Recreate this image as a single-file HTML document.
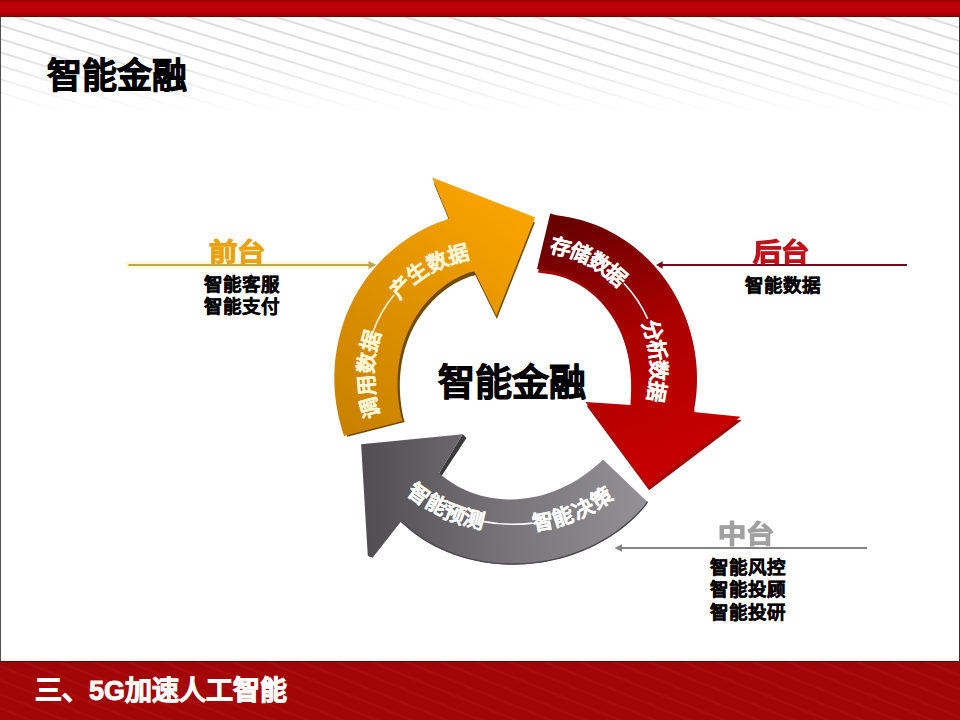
<!DOCTYPE html>
<html lang="zh-CN">
<head>
<meta charset="utf-8">
<style>
html,body{margin:0;padding:0;}
body{width:960px;height:720px;overflow:hidden;position:relative;background:#fff;font-family:"Liberation Sans",sans-serif;}
.abs{position:absolute;white-space:nowrap;}
#topbar{left:0;top:0;width:960px;height:17px;background:linear-gradient(to bottom,#8c0404 0,#b40008 2px,#c2000a 6px,#bc0008 12px,#a00006 15px,#700000 17px);}
#stripes{left:0;top:17px;width:960px;height:110px;
  background:repeating-linear-gradient(17.2deg,rgba(208,208,214,0) 0,rgba(208,208,214,0) 5.9px,rgba(208,208,214,.8) 7px,rgba(208,208,214,.8) 7.8px,rgba(208,208,214,0) 8.9px,rgba(208,208,214,0) 12.8px);
  -webkit-mask-image:linear-gradient(to bottom,rgba(0,0,0,1) 0,rgba(0,0,0,.85) 35%,rgba(0,0,0,0) 88%);}
#lb{left:0;top:17px;width:1px;height:644px;background:#4e4e4e;}
#rb{left:959px;top:17px;width:1px;height:644px;background:#333;}
#botbar{left:0;top:661px;width:960px;height:59px;background-color:#a30606;border-top:1px solid #680000;box-sizing:border-box;
  background-image:repeating-linear-gradient(22deg,rgba(255,90,90,0) 0,rgba(255,90,90,0) 9px,rgba(255,90,90,.08) 10.5px,rgba(255,90,90,.08) 11.5px,rgba(255,90,90,0) 13px),linear-gradient(to bottom,rgba(0,0,0,.06),rgba(0,0,0,0) 10px);}
.b{font-weight:bold;}
#title{left:47px;top:53.5px;font-size:35px;line-height:44px;color:#000;font-weight:bold;-webkit-text-stroke:0.8px #000;}
#foot{left:35px;top:673px;font-size:27px;line-height:36px;color:#fff;font-weight:bold;-webkit-text-stroke:0.9px #fff;}
#center{left:438px;top:361px;font-size:37px;line-height:46px;color:#000;font-weight:bold;-webkit-text-stroke:0.9px #000;}
.lbl{font-size:24.5px;line-height:28px;font-weight:bold;-webkit-text-stroke:1.1px currentColor;transform:scaleX(1.15);transform-origin:0 0;}
.sub{font-size:18.5px;line-height:22px;font-weight:bold;color:#000;-webkit-text-stroke:0.4px #000;}
svg{position:absolute;left:0;top:0;}
</style>
</head>
<body>
<div id="topbar" class="abs"></div>
<div id="stripes" class="abs"></div>
<div id="lb" class="abs"></div>
<div id="rb" class="abs"></div>
<div id="botbar" class="abs"></div>

<div id="title" class="abs">智能金融</div>
<div id="foot" class="abs">三、5G加速人工智能</div>

<svg width="960" height="720" viewBox="0 0 960 720">
  <defs>
    <linearGradient id="gO" gradientUnits="userSpaceOnUse" x1="350" y1="430" x2="520" y2="210">
      <stop offset="0" stop-color="#c98200"/>
      <stop offset="0.5" stop-color="#df9200"/>
      <stop offset="1" stop-color="#faa400"/>
    </linearGradient>
    <linearGradient id="gR" gradientUnits="userSpaceOnUse" x1="560" y1="225" x2="660" y2="450">
      <stop offset="0" stop-color="#680000"/>
      <stop offset="0.5" stop-color="#a80000"/>
      <stop offset="1" stop-color="#c40000"/>
    </linearGradient>
    <linearGradient id="gG" gradientUnits="userSpaceOnUse" x1="370" y1="500" x2="645" y2="490">
      <stop offset="0" stop-color="#524f53"/>
      <stop offset="0.47" stop-color="#767377"/>
      <stop offset="1" stop-color="#939195"/>
    </linearGradient>
  </defs>
  <!-- lines -->
  <line x1="126" y1="265" x2="372" y2="265" stroke="#fff6c0" stroke-width="7" opacity="0.7"/>
  <line x1="128.4" y1="265" x2="370" y2="265" stroke="#bca64e" stroke-width="2"/>
  <path d="M376.5,265 L368.5,261 L368.5,269 Z" fill="#bca64e"/>
  <line x1="662" y1="265" x2="907" y2="265" stroke="#6e0c1c" stroke-width="2"/>
  <path d="M656,265 L662.7,261.2 L662.7,268.8 Z" fill="#6e0c1c"/>
  <line x1="621" y1="548" x2="867" y2="548" stroke="#848484" stroke-width="2"/>
  <path d="M614.4,548 L622,544.2 L622,551.8 Z" fill="#848484"/>

  <!-- orange arrow -->
  <path d="M344.00,436.00 L341.98,429.44 L340.10,422.83 L338.47,416.14 L337.11,409.39 L336.01,402.58 L335.18,395.73 L334.62,388.84 L334.33,381.93 L334.32,375.01 L334.58,368.09 L335.12,361.18 L335.94,354.29 L337.03,347.44 L338.40,340.64 L340.05,333.89 L341.97,327.21 L344.16,320.62 L346.61,314.12 L349.34,307.72 L352.32,301.45 L355.56,295.30 L359.05,289.30 L362.79,283.44 L366.77,277.76 L370.97,272.24 L375.41,266.91 L380.06,261.78 L384.91,256.86 L389.97,252.15 L395.21,247.66 L400.64,243.41 L406.23,239.41 L411.98,235.65 L417.88,232.15 L423.91,228.92 L430.06,225.96 L436.32,223.28 L442.67,220.88 L449.00,218.50 L432.10,177.50 L535.20,217.40 L496.40,315.80 L474.50,271.40 L469.79,272.29 L465.37,273.99 L461.03,275.90 L456.79,278.01 L452.64,280.33 L448.61,282.84 L444.69,285.54 L440.90,288.41 L437.24,291.45 L433.73,294.65 L430.36,298.00 L427.14,301.49 L424.07,305.11 L421.17,308.86 L418.43,312.72 L415.85,316.69 L413.45,320.76 L411.21,324.92 L409.14,329.16 L407.24,333.47 L405.51,337.85 L403.96,342.29 L402.57,346.78 L401.36,351.31 L400.31,355.88 L399.43,360.48 L398.72,365.10 L398.16,369.75 L397.77,374.41 L397.54,379.09 L397.47,383.77 L397.55,388.45 L397.78,393.13 L398.17,397.81 L398.70,402.49 L399.38,407.15 L400.20,411.81 L401.16,416.45 L402.50,421.00 Z" fill="#6e4c06" transform="translate(520,480) scale(0.981) translate(-520,-480)"/>
  <path d="M344.00,436.00 L341.98,429.44 L340.10,422.83 L338.47,416.14 L337.11,409.39 L336.01,402.58 L335.18,395.73 L334.62,388.84 L334.33,381.93 L334.32,375.01 L334.58,368.09 L335.12,361.18 L335.94,354.29 L337.03,347.44 L338.40,340.64 L340.05,333.89 L341.97,327.21 L344.16,320.62 L346.61,314.12 L349.34,307.72 L352.32,301.45 L355.56,295.30 L359.05,289.30 L362.79,283.44 L366.77,277.76 L370.97,272.24 L375.41,266.91 L380.06,261.78 L384.91,256.86 L389.97,252.15 L395.21,247.66 L400.64,243.41 L406.23,239.41 L411.98,235.65 L417.88,232.15 L423.91,228.92 L430.06,225.96 L436.32,223.28 L442.67,220.88 L449.00,218.50 L432.10,177.50 L535.20,217.40 L496.40,315.80 L474.50,271.40 L469.79,272.29 L465.37,273.99 L461.03,275.90 L456.79,278.01 L452.64,280.33 L448.61,282.84 L444.69,285.54 L440.90,288.41 L437.24,291.45 L433.73,294.65 L430.36,298.00 L427.14,301.49 L424.07,305.11 L421.17,308.86 L418.43,312.72 L415.85,316.69 L413.45,320.76 L411.21,324.92 L409.14,329.16 L407.24,333.47 L405.51,337.85 L403.96,342.29 L402.57,346.78 L401.36,351.31 L400.31,355.88 L399.43,360.48 L398.72,365.10 L398.16,369.75 L397.77,374.41 L397.54,379.09 L397.47,383.77 L397.55,388.45 L397.78,393.13 L398.17,397.81 L398.70,402.49 L399.38,407.15 L400.20,411.81 L401.16,416.45 L402.50,421.00 Z" fill="url(#gO)"/>

  <!-- red arrow -->
  <path d="M550.20,213.40 L556.69,215.31 L563.46,216.19 L570.21,217.39 L576.92,218.91 L583.58,220.74 L590.17,222.89 L596.68,225.35 L603.08,228.11 L609.38,231.17 L615.54,234.52 L621.57,238.16 L627.43,242.07 L633.13,246.26 L638.64,250.71 L643.96,255.40 L649.07,260.34 L653.96,265.51 L658.63,270.90 L663.05,276.50 L667.23,282.29 L671.15,288.27 L674.80,294.42 L678.18,300.72 L681.29,307.17 L684.10,313.75 L686.63,320.45 L688.87,327.25 L690.80,334.13 L692.43,341.09 L693.76,348.12 L694.78,355.18 L695.50,362.28 L695.91,369.39 L696.01,376.51 L695.81,383.62 L695.30,390.70 L694.49,397.74 L693.39,404.73 L693.50,411.90 L740.70,416.70 L648.10,486.80 L585.40,402.00 L630.50,405.10 L630.64,400.31 L630.92,395.58 L631.08,390.86 L631.12,386.15 L631.04,381.46 L630.82,376.78 L630.47,372.11 L629.99,367.45 L629.36,362.81 L628.58,358.18 L627.65,353.58 L626.57,349.01 L625.32,344.47 L623.91,339.97 L622.33,335.51 L620.58,331.11 L618.65,326.78 L616.54,322.51 L614.26,318.33 L611.80,314.24 L609.16,310.25 L606.33,306.38 L603.34,302.63 L600.17,299.02 L596.82,295.56 L593.32,292.27 L589.65,289.15 L585.83,286.22 L581.87,283.49 L577.77,280.97 L573.55,278.68 L569.21,276.63 L564.77,274.82 L560.25,273.26 L555.65,271.98 L551.00,270.97 L546.30,270.24 L541.59,269.81 L537.00,269.00 Z" fill="#a00808" transform="translate(1,3.5)"/>
  <path d="M550.20,213.40 L556.69,215.31 L563.46,216.19 L570.21,217.39 L576.92,218.91 L583.58,220.74 L590.17,222.89 L596.68,225.35 L603.08,228.11 L609.38,231.17 L615.54,234.52 L621.57,238.16 L627.43,242.07 L633.13,246.26 L638.64,250.71 L643.96,255.40 L649.07,260.34 L653.96,265.51 L658.63,270.90 L663.05,276.50 L667.23,282.29 L671.15,288.27 L674.80,294.42 L678.18,300.72 L681.29,307.17 L684.10,313.75 L686.63,320.45 L688.87,327.25 L690.80,334.13 L692.43,341.09 L693.76,348.12 L694.78,355.18 L695.50,362.28 L695.91,369.39 L696.01,376.51 L695.81,383.62 L695.30,390.70 L694.49,397.74 L693.39,404.73 L693.50,411.90 L740.70,416.70 L648.10,486.80 L585.40,402.00 L630.50,405.10 L630.64,400.31 L630.92,395.58 L631.08,390.86 L631.12,386.15 L631.04,381.46 L630.82,376.78 L630.47,372.11 L629.99,367.45 L629.36,362.81 L628.58,358.18 L627.65,353.58 L626.57,349.01 L625.32,344.47 L623.91,339.97 L622.33,335.51 L620.58,331.11 L618.65,326.78 L616.54,322.51 L614.26,318.33 L611.80,314.24 L609.16,310.25 L606.33,306.38 L603.34,302.63 L600.17,299.02 L596.82,295.56 L593.32,292.27 L589.65,289.15 L585.83,286.22 L581.87,283.49 L577.77,280.97 L573.55,278.68 L569.21,276.63 L564.77,274.82 L560.25,273.26 L555.65,271.98 L551.00,270.97 L546.30,270.24 L541.59,269.81 L537.00,269.00 Z" fill="url(#gR)"/>

  <!-- gray arrow -->
  <polygon points="462.8,434.3 466.5,438 441.5,476 438.9,473.5" fill="#3a3a3a"/>
  <path d="M647.50,502.10 L645.05,506.13 L642.00,509.63 L638.84,513.04 L635.57,516.35 L632.20,519.56 L628.73,522.66 L625.16,525.67 L621.50,528.57 L617.76,531.36 L613.93,534.04 L610.03,536.61 L606.06,539.08 L602.01,541.43 L597.91,543.68 L593.74,545.81 L589.51,547.83 L585.24,549.73 L580.91,551.52 L576.53,553.20 L572.11,554.77 L567.66,556.22 L563.16,557.55 L558.63,558.77 L554.08,559.87 L549.49,560.86 L544.88,561.73 L540.24,562.49 L535.59,563.12 L530.93,563.64 L526.25,564.04 L521.55,564.32 L516.86,564.48 L512.16,564.52 L507.45,564.44 L502.75,564.24 L498.06,563.91 L493.37,563.46 L488.70,562.89 L484.04,562.19 L479.41,561.37 L474.79,560.42 L470.21,559.35 L465.65,558.14 L461.13,556.81 L456.65,555.35 L452.21,553.77 L447.83,552.05 L443.50,550.21 L439.22,548.23 L435.01,546.13 L430.87,543.90 L426.81,541.54 L422.82,539.05 L418.93,536.44 L415.12,533.70 L411.42,530.83 L407.82,527.84 L404.33,524.73 L400.80,521.70 L372.60,557.80 L367.80,556.00 L361.10,444.20 L462.80,434.30 L438.90,473.50 L442.73,476.24 L446.45,479.12 L450.31,481.81 L454.29,484.32 L458.38,486.65 L462.57,488.78 L466.86,490.73 L471.22,492.48 L475.66,494.03 L480.16,495.38 L484.70,496.54 L489.29,497.50 L493.91,498.27 L498.55,498.84 L503.20,499.22 L507.86,499.41 L512.51,499.41 L517.15,499.23 L521.78,498.86 L526.37,498.32 L530.94,497.60 L535.47,496.71 L539.96,495.66 L544.40,494.45 L548.79,493.07 L553.12,491.55 L557.39,489.87 L561.60,488.05 L565.74,486.09 L569.81,484.00 L573.81,481.77 L577.74,479.41 L581.60,476.92 L585.37,474.31 L589.08,471.59 L592.70,468.74 L596.25,465.78 L599.72,462.71 L603.30,459.70 Z" fill="url(#gG)"/>
  <path d="M647.50,502.10 L645.05,506.13 L642.00,509.63 L638.84,513.04 L635.57,516.35 L632.20,519.56 L628.73,522.66 L625.16,525.67 L621.50,528.57 L617.76,531.36 L613.93,534.04 L610.03,536.61 L606.06,539.08 L602.01,541.43 L597.91,543.68 L593.74,545.81 L589.51,547.83 L585.24,549.73 L580.91,551.52 L576.53,553.20 L572.11,554.77 L567.66,556.22 L563.16,557.55 L558.63,558.77 L554.08,559.87 L549.49,560.86 L544.88,561.73 L540.24,562.49 L535.59,563.12 L530.93,563.64 L526.25,564.04 L521.55,564.32 L516.86,564.48 L512.16,564.52 L507.45,564.44 L502.75,564.24 L498.06,563.91 L493.37,563.46 L488.70,562.89 L484.04,562.19 L479.41,561.37 L474.79,560.42 L470.21,559.35 L465.65,558.14 L461.13,556.81 L456.65,555.35 L452.21,553.77 L447.83,552.05 L443.50,550.21 L439.22,548.23 L435.01,546.13 L430.87,543.90 L426.81,541.54 L422.82,539.05 L418.93,536.44 L415.12,533.70 L411.42,530.83 L407.82,527.84 L404.33,524.73 L400.80,521.70" fill="none" stroke="#4a494c" stroke-width="1.4" transform="translate(0,-0.5)"/>

  <!-- text paths -->
  <g font-size="21" font-weight="bold" stroke-width="0.25" font-family="'Liberation Sans',sans-serif">
  <g fill="#fff6d8" stroke="#fff6d8">
<path id="tO" d="M382.32,436.60 A124.8,124.8 0 0 1 490.40,249.40" fill="none" stroke="none"/>
<text dy="7.56" letter-spacing="1.50" ><textPath href="#tO" startOffset="21.08">调用数据</textPath></text>
<text dy="7.56" letter-spacing="1.50" ><textPath href="#tO" startOffset="150.47">产生数据</textPath></text>
<path d="M372.76,332.54 A124.8,124.8 0 0 1 394.10,294.82" fill="none" stroke="#fff6d8" stroke-width="1.6"/>
  </g>
  <g fill="#fff" stroke="#fff">
<path id="tR" d="M531.70,243.60 A127,127 0 0 1 651.04,414.04" fill="none" stroke="none"/>
<text dy="7.56" letter-spacing="-0.20" ><textPath href="#tR" startOffset="19.42">存储数据</textPath></text>
<text dy="7.56" letter-spacing="-0.40" ><textPath href="#tR" startOffset="147.98">分析数据</textPath></text>
<path d="M623.82,283.18 A127,127 0 0 1 647.72,318.94" fill="none" stroke="#fff" stroke-width="1.6"/>
  </g>
  <g fill="#fff" stroke="#fff">
<path id="tG" d="M390.43,467.15 A160,160 0 0 0 635.57,467.15" fill="none" stroke="none"/>
<text dy="7.56" letter-spacing="-0.80" ><textPath href="#tG" startOffset="29.15">智能预测</textPath></text>
<text dy="7.56" letter-spacing="0.20" ><textPath href="#tG" startOffset="158.73">智能决策</textPath></text>
<path d="M482.47,521.36 A160,160 0 0 0 532.50,523.11" fill="none" stroke="#fff" stroke-width="1.6"/>
  </g>
  </g>
</svg>

<div id="center" class="abs">智能金融</div>

<div class="abs lbl" style="left:209px;top:238.5px;color:#e9a212;">前台</div>
<div class="abs sub" style="left:203.5px;top:274px;">智能客服<br>智能支付</div>

<div class="abs lbl" style="left:752.5px;top:239px;color:#c0121a;">后台</div>
<div class="abs sub" style="left:744.5px;top:275px;">智能数据</div>

<div class="abs lbl" style="left:718px;top:520.5px;color:#a0a0a0;">中台</div>
<div class="abs sub" style="left:709.5px;top:557px;line-height:22.3px;">智能风控<br>智能投顾<br>智能投研</div>
</body>
</html>
